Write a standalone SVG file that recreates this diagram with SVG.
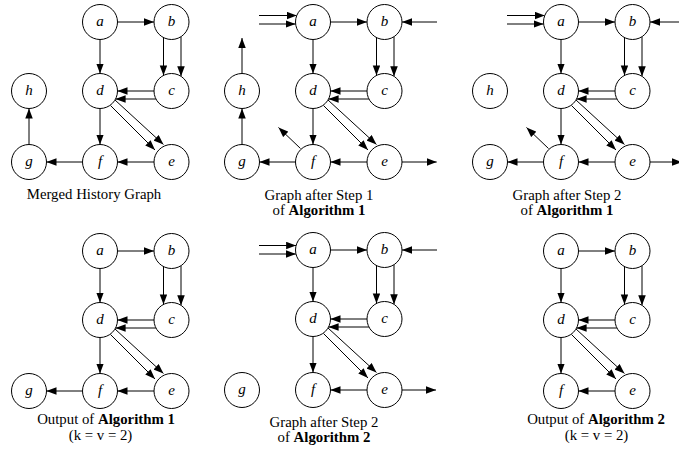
<svg xmlns="http://www.w3.org/2000/svg" width="679" height="455" viewBox="0 0 679 455">
<defs>
<marker id="ah" markerWidth="10" markerHeight="8" refX="10" refY="3.75" orient="auto" markerUnits="userSpaceOnUse"><path d="M0,0 L10,3.75 L0,7.5 z" fill="#000"/></marker>
</defs>
<style>
.n circle{fill:#fff;stroke:#000;stroke-width:1}
.n text{font-family:"Liberation Serif",serif;font-style:italic;font-size:15px;text-anchor:middle;fill:#000}
.e line{stroke:#000;stroke-width:1;marker-end:url(#ah)}
.cap{font-family:"Liberation Serif",serif;font-size:14.8px;text-anchor:middle;fill:#000}
.bd{font-weight:bold}
</style>
<rect width="679" height="455" fill="#fff"/>

<!-- Panel 1 -->
<g id="panel1">
<g id="p1-connectors" class="e">
<line x1="117.5" y1="22" x2="154" y2="22"/>
<line x1="100" y1="39.5" x2="100" y2="73.5"/>
<line x1="163.5" y1="37.6" x2="163.5" y2="75.4"/>
<line x1="181" y1="36.7" x2="181" y2="76.3"/>
<line x1="154" y1="91" x2="117.5" y2="91"/>
<line x1="155.9" y1="99" x2="115.6" y2="99"/>
<line x1="115" y1="100" x2="163.5" y2="144.5"/>
<line x1="110.5" y1="105.5" x2="155" y2="150"/>
<line x1="100" y1="108.5" x2="100" y2="144.5"/>
<line x1="154" y1="162" x2="117.5" y2="162"/>
<line x1="82.5" y1="162" x2="46.5" y2="162"/>
<line x1="29" y1="144.5" x2="29" y2="108.5"/>
</g>
<g id="p1-a" class="n"><circle cx="100" cy="22" r="17.5"/><text x="100" y="25.5">a</text></g>
<g id="p1-b" class="n"><circle cx="171.5" cy="22" r="17.5"/><text x="171.5" y="25.5">b</text></g>
<g id="p1-c" class="n"><circle cx="171.5" cy="91" r="17.5"/><text x="171.5" y="94.5">c</text></g>
<g id="p1-d" class="n"><circle cx="100" cy="91" r="17.5"/><text x="100" y="94.5">d</text></g>
<g id="p1-e" class="n"><circle cx="171.5" cy="162" r="17.5"/><text x="171.5" y="165.5">e</text></g>
<g id="p1-f" class="n"><circle cx="100" cy="162" r="17.5"/><text x="100" y="165.5">f</text></g>
<g id="p1-g" class="n"><circle cx="29" cy="162" r="17.5"/><text x="29" y="165.5">g</text></g>
<g id="p1-h" class="n"><circle cx="29" cy="91" r="17.5"/><text x="29" y="94.5">h</text></g>
</g>

<!-- Panel 2 -->
<g id="panel2" transform="translate(213,0)">
<g id="p2-connectors" class="e">
<line x1="46" y1="15.5" x2="83.75" y2="15.5"/>
<line x1="46" y1="24" x2="82.6" y2="24"/>
<line x1="224" y1="22" x2="189" y2="22"/>
<line x1="189" y1="162" x2="223.7" y2="162"/>
<line x1="29" y1="73.5" x2="29" y2="38"/>
<line x1="87.5" y1="148.5" x2="65.5" y2="127.5"/>
<line x1="117.5" y1="22" x2="154" y2="22"/>
<line x1="100" y1="39.5" x2="100" y2="73.5"/>
<line x1="163.5" y1="37.6" x2="163.5" y2="75.4"/>
<line x1="181" y1="36.7" x2="181" y2="76.3"/>
<line x1="154" y1="91" x2="117.5" y2="91"/>
<line x1="155.9" y1="99" x2="115.6" y2="99"/>
<line x1="115" y1="100" x2="163.5" y2="144.5"/>
<line x1="110.5" y1="105.5" x2="155" y2="150"/>
<line x1="100" y1="108.5" x2="100" y2="144.5"/>
<line x1="154" y1="162" x2="117.5" y2="162"/>
<line x1="82.5" y1="162" x2="46.5" y2="162"/>
<line x1="29" y1="144.5" x2="29" y2="108.5"/>
</g>
<g id="p2-a" class="n"><circle cx="100" cy="22" r="17.5"/><text x="100" y="25.5">a</text></g>
<g id="p2-b" class="n"><circle cx="171.5" cy="22" r="17.5"/><text x="171.5" y="25.5">b</text></g>
<g id="p2-c" class="n"><circle cx="171.5" cy="91" r="17.5"/><text x="171.5" y="94.5">c</text></g>
<g id="p2-d" class="n"><circle cx="100" cy="91" r="17.5"/><text x="100" y="94.5">d</text></g>
<g id="p2-e" class="n"><circle cx="171.5" cy="162" r="17.5"/><text x="171.5" y="165.5">e</text></g>
<g id="p2-f" class="n"><circle cx="100" cy="162" r="17.5"/><text x="100" y="165.5">f</text></g>
<g id="p2-g" class="n"><circle cx="29" cy="162" r="17.5"/><text x="29" y="165.5">g</text></g>
<g id="p2-h" class="n"><circle cx="29" cy="91" r="17.5"/><text x="29" y="94.5">h</text></g>
</g>

<!-- Panel 3 -->
<g id="panel3" transform="translate(461,0)">
<g id="p3-connectors" class="e">
<line x1="46" y1="15.5" x2="83.75" y2="15.5"/>
<line x1="46" y1="24" x2="82.6" y2="24"/>
<line x1="220" y1="22" x2="189" y2="22"/>
<line x1="189" y1="162" x2="221" y2="162"/>
<line x1="87.5" y1="148.5" x2="65.5" y2="127.5"/>
<line x1="117.5" y1="22" x2="154" y2="22"/>
<line x1="100" y1="39.5" x2="100" y2="73.5"/>
<line x1="163.5" y1="37.6" x2="163.5" y2="75.4"/>
<line x1="181" y1="36.7" x2="181" y2="76.3"/>
<line x1="154" y1="91" x2="117.5" y2="91"/>
<line x1="155.9" y1="99" x2="115.6" y2="99"/>
<line x1="115" y1="100" x2="163.5" y2="144.5"/>
<line x1="110.5" y1="105.5" x2="155" y2="150"/>
<line x1="100" y1="108.5" x2="100" y2="144.5"/>
<line x1="154" y1="162" x2="117.5" y2="162"/>
<line x1="82.5" y1="162" x2="46.5" y2="162"/>
</g>
<g id="p3-a" class="n"><circle cx="100" cy="22" r="17.5"/><text x="100" y="25.5">a</text></g>
<g id="p3-b" class="n"><circle cx="171.5" cy="22" r="17.5"/><text x="171.5" y="25.5">b</text></g>
<g id="p3-c" class="n"><circle cx="171.5" cy="91" r="17.5"/><text x="171.5" y="94.5">c</text></g>
<g id="p3-d" class="n"><circle cx="100" cy="91" r="17.5"/><text x="100" y="94.5">d</text></g>
<g id="p3-e" class="n"><circle cx="171.5" cy="162" r="17.5"/><text x="171.5" y="165.5">e</text></g>
<g id="p3-f" class="n"><circle cx="100" cy="162" r="17.5"/><text x="100" y="165.5">f</text></g>
<g id="p3-g" class="n"><circle cx="29" cy="162" r="17.5"/><text x="29" y="165.5">g</text></g>
<g id="p3-h" class="n"><circle cx="29" cy="91" r="17.5"/><text x="29" y="94.5">h</text></g>
</g>

<!-- Panel 4 -->
<g id="panel4" transform="translate(0,229)">
<g id="p4-connectors" class="e">
<line x1="117.5" y1="22" x2="154" y2="22"/>
<line x1="100" y1="39.5" x2="100" y2="73.5"/>
<line x1="163.5" y1="37.6" x2="163.5" y2="75.4"/>
<line x1="181" y1="36.7" x2="181" y2="76.3"/>
<line x1="154" y1="91" x2="117.5" y2="91"/>
<line x1="155.9" y1="99" x2="115.6" y2="99"/>
<line x1="115" y1="100" x2="163.5" y2="144.5"/>
<line x1="110.5" y1="105.5" x2="155" y2="150"/>
<line x1="100" y1="108.5" x2="100" y2="144.5"/>
<line x1="154" y1="162" x2="117.5" y2="162"/>
<line x1="82.5" y1="162" x2="46.5" y2="162"/>
</g>
<g id="p4-a" class="n"><circle cx="100" cy="22" r="17.5"/><text x="100" y="25.5">a</text></g>
<g id="p4-b" class="n"><circle cx="171.5" cy="22" r="17.5"/><text x="171.5" y="25.5">b</text></g>
<g id="p4-c" class="n"><circle cx="171.5" cy="91" r="17.5"/><text x="171.5" y="94.5">c</text></g>
<g id="p4-d" class="n"><circle cx="100" cy="91" r="17.5"/><text x="100" y="94.5">d</text></g>
<g id="p4-e" class="n"><circle cx="171.5" cy="162" r="17.5"/><text x="171.5" y="165.5">e</text></g>
<g id="p4-f" class="n"><circle cx="100" cy="162" r="17.5"/><text x="100" y="165.5">f</text></g>
<g id="p4-g" class="n"><circle cx="29" cy="162" r="17.5"/><text x="29" y="165.5">g</text></g>
</g>

<!-- Panel 5 -->
<g id="panel5" transform="translate(213,228)">
<g id="p5-connectors" class="e">
<line x1="46" y1="17.5" x2="83.1" y2="17.5"/>
<line x1="46" y1="26" x2="82.96" y2="26"/>
<line x1="224" y1="22" x2="189" y2="22"/>
<line x1="189" y1="162" x2="223" y2="162"/>
<line x1="117.5" y1="22" x2="154" y2="22"/>
<line x1="100" y1="39.5" x2="100" y2="73.5"/>
<line x1="163.5" y1="37.6" x2="163.5" y2="75.4"/>
<line x1="181" y1="36.7" x2="181" y2="76.3"/>
<line x1="154" y1="91" x2="117.5" y2="91"/>
<line x1="155.9" y1="99" x2="115.6" y2="99"/>
<line x1="115" y1="100" x2="163.5" y2="144.5"/>
<line x1="110.5" y1="105.5" x2="155" y2="150"/>
<line x1="100" y1="108.5" x2="100" y2="144.5"/>
<line x1="154" y1="162" x2="117.5" y2="162"/>
</g>
<g id="p5-a" class="n"><circle cx="100" cy="22" r="17.5"/><text x="100" y="25.5">a</text></g>
<g id="p5-b" class="n"><circle cx="171.5" cy="22" r="17.5"/><text x="171.5" y="25.5">b</text></g>
<g id="p5-c" class="n"><circle cx="171.5" cy="91" r="17.5"/><text x="171.5" y="94.5">c</text></g>
<g id="p5-d" class="n"><circle cx="100" cy="91" r="17.5"/><text x="100" y="94.5">d</text></g>
<g id="p5-e" class="n"><circle cx="171.5" cy="162" r="17.5"/><text x="171.5" y="165.5">e</text></g>
<g id="p5-f" class="n"><circle cx="100" cy="162" r="17.5"/><text x="100" y="165.5">f</text></g>
<g id="p5-g" class="n"><circle cx="29" cy="162" r="17.5"/><text x="29" y="165.5">g</text></g>
</g>

<!-- Panel 6 -->
<g id="panel6" transform="translate(461,229)">
<g id="p6-connectors" class="e">
<line x1="117.5" y1="22" x2="154" y2="22"/>
<line x1="100" y1="39.5" x2="100" y2="73.5"/>
<line x1="163.5" y1="37.6" x2="163.5" y2="75.4"/>
<line x1="181" y1="36.7" x2="181" y2="76.3"/>
<line x1="154" y1="91" x2="117.5" y2="91"/>
<line x1="155.9" y1="99" x2="115.6" y2="99"/>
<line x1="115" y1="100" x2="163.5" y2="144.5"/>
<line x1="110.5" y1="105.5" x2="155" y2="150"/>
<line x1="100" y1="108.5" x2="100" y2="144.5"/>
<line x1="154" y1="162" x2="117.5" y2="162"/>
</g>
<g id="p6-a" class="n"><circle cx="100" cy="22" r="17.5"/><text x="100" y="25.5">a</text></g>
<g id="p6-b" class="n"><circle cx="171.5" cy="22" r="17.5"/><text x="171.5" y="25.5">b</text></g>
<g id="p6-c" class="n"><circle cx="171.5" cy="91" r="17.5"/><text x="171.5" y="94.5">c</text></g>
<g id="p6-d" class="n"><circle cx="100" cy="91" r="17.5"/><text x="100" y="94.5">d</text></g>
<g id="p6-e" class="n"><circle cx="171.5" cy="162" r="17.5"/><text x="171.5" y="165.5">e</text></g>
<g id="p6-f" class="n"><circle cx="100" cy="162" r="17.5"/><text x="100" y="165.5">f</text></g>
</g>

<!-- Captions -->
<g id="captions">
<text class="cap" x="94" y="199">Merged History Graph</text>
<text class="cap" x="319" y="199.5">Graph after Step 1</text>
<text class="cap" x="319" y="215">of <tspan class="bd">Algorithm 1</tspan></text>
<text class="cap" x="567" y="199.5">Graph after Step 2</text>
<text class="cap" x="567" y="215">of <tspan class="bd">Algorithm 1</tspan></text>
<text class="cap" x="106" y="424">Output of <tspan class="bd">Algorithm 1</tspan></text>
<text class="cap" x="100.5" y="439.5">(k = v = 2)</text>
<text class="cap" x="324" y="426.5">Graph after Step 2</text>
<text class="cap" x="324" y="442">of <tspan class="bd">Algorithm 2</tspan></text>
<text class="cap" x="596" y="423.5">Output of <tspan class="bd">Algorithm 2</tspan></text>
<text class="cap" x="596.5" y="439.5">(k = v = 2)</text>
</g>
</svg>
